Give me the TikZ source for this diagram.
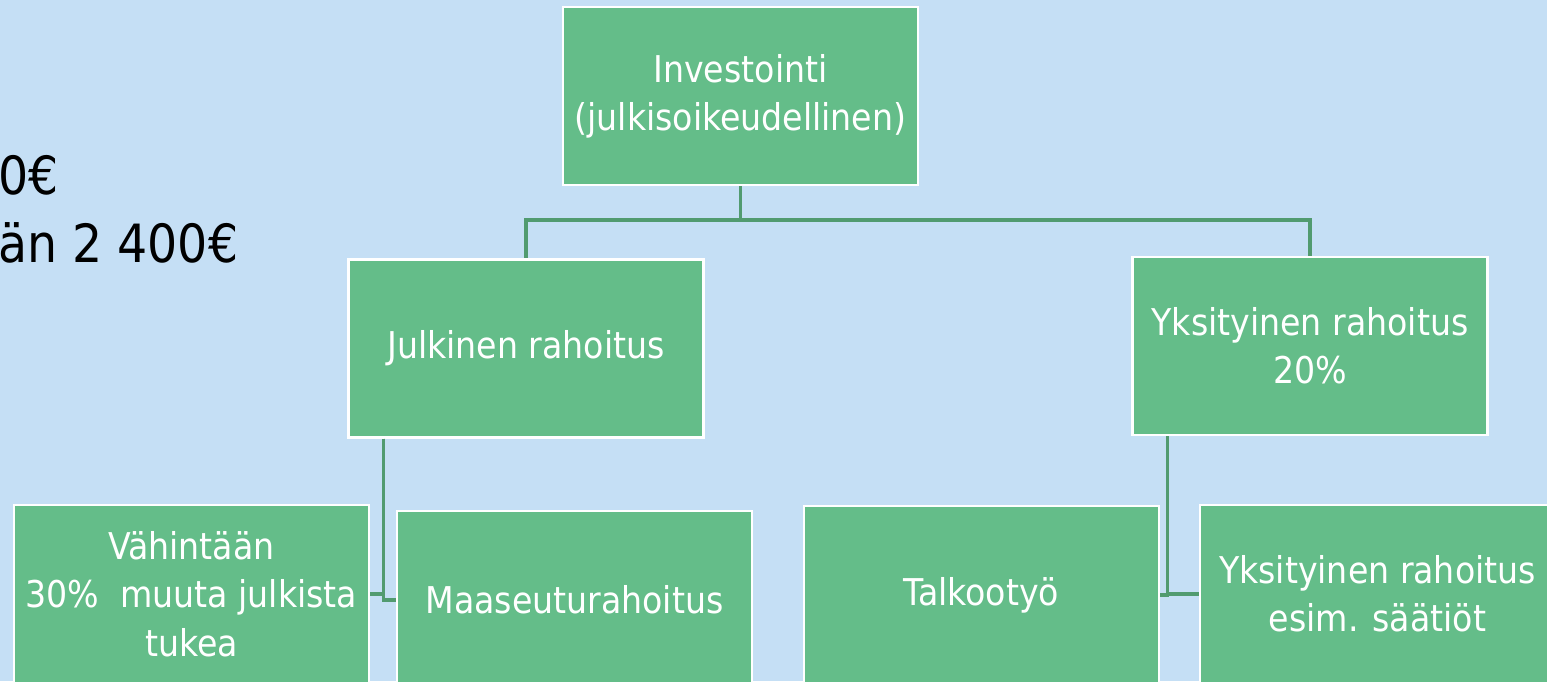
\documentclass[tikz,border=0pt]{standalone}
\usepackage{fontspec}
\setmainfont{DejaVu Sans Condensed}
\usepackage{tikz}

\definecolor{taustasin}{HTML}{C5DFF5}
\definecolor{laatikko}{HTML}{64BD89}
\definecolor{viiva}{HTML}{519B70}

\begin{document}
\begin{tikzpicture}[x=0.02cm,y=-0.02cm,
  laatikko/.style={rectangle,fill=laatikko,draw=white,line width=1.3pt,
    minimum width=7.1cm,minimum height=3.56cm,inner sep=0pt,align=center,
    text=white,font=\fontsize{21}{27.5}\selectfont},
  yhteys/.style={draw=viiva,line width=1.9pt}]
\useasboundingbox (0,0) rectangle (1547,681);
\clip (0,0) rectangle (1547,681);
\fill[taustasin] (0,0) rectangle (1547,681);

% vasemman reunan teksti
\node[anchor=west,inner sep=0pt,font=\fontsize{30}{36}\selectfont] (summa1) at (-2,175) {0€};
\node[anchor=west,inner sep=0pt,font=\fontsize{30}{36}\selectfont] (summa2) at (-2,243) {än 2 400€};

\node[laatikko] (inv) at (740.5,96) {Investointi\\(julkisoikeudellinen)};
\node[laatikko] (julk) at (526,348.5) {Julkinen rahoitus};
\node[laatikko] (yks) at (1310,346) {Yksityinen rahoitus\\20\%};

\node[laatikko] (vah) at (191.5,594) {Vähintään\\30\%\ \ muuta julkista\\tukea};
\node[laatikko] (maa) at (574.5,600) {Maaseuturahoitus};
\node[laatikko] (talk) at (981.5,595) {Talkootyö};
\node[laatikko] (saat) at (1377.5,594) {Yksityinen rahoitus\\esim. säätiöt};

\coordinate (haara) at ([yshift=-0.68cm]inv.south);
\coordinate (jv) at ([xshift=0.72cm]julk.south west);
\coordinate (yv) at ([xshift=0.72cm]yks.south west);

\draw[yhteys] (inv.south) -- (haara) -| (julk.north);
\draw[yhteys] (haara) -| (yks.north);
\draw[yhteys] (jv) |- (vah.east);
\draw[yhteys] (jv) |- (maa.west);
\draw[yhteys] (yv) |- (talk.east);
\draw[yhteys] (yv) |- (saat.west);
\end{tikzpicture}
\end{document}
